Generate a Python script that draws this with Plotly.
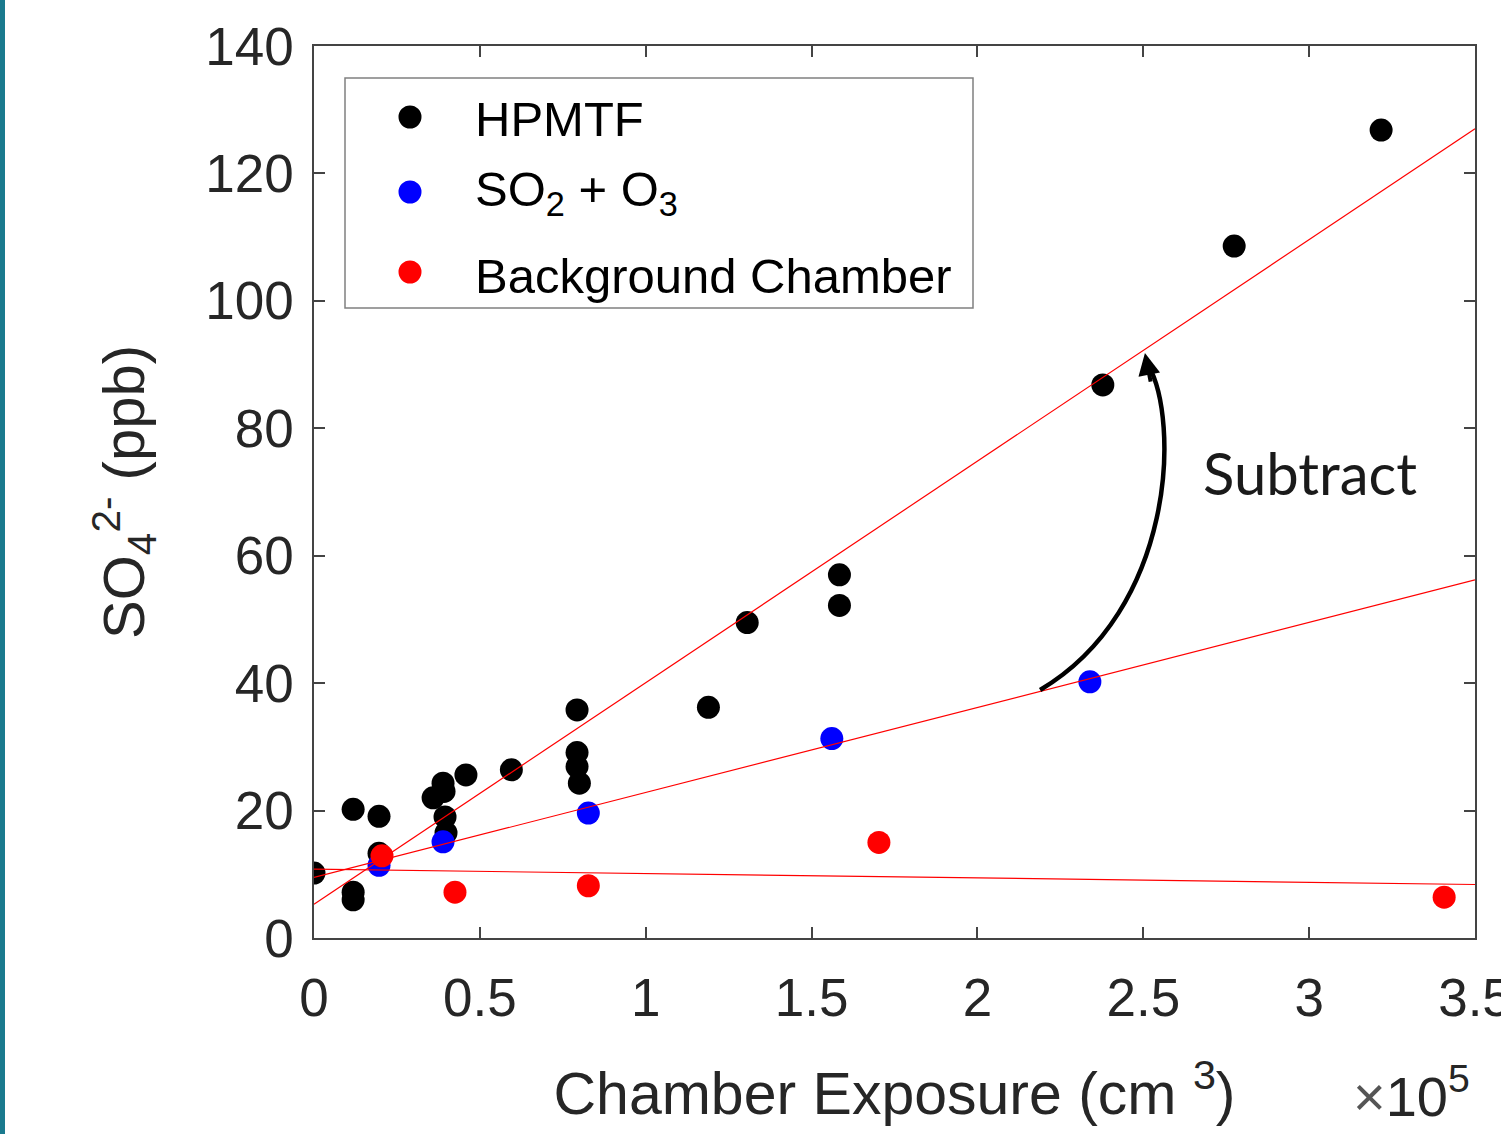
import plotly.graph_objects as go

# ---------------- data (x in units of 1e5 cm^-3 ... as plotted) ----------------
hpmtf_x = [0.0, 0.118, 0.118, 0.118, 0.196, 0.196, 0.359, 0.389, 0.392, 0.395, 0.398,
           0.458, 0.595, 0.793, 0.793, 0.793, 0.800, 1.189, 1.306, 1.584, 1.584,
           2.378, 2.774, 3.217]
hpmtf_y = [10.2, 20.2, 7.2, 6.0, 19.1, 13.3, 22.0, 24.3, 23.0, 19.0, 16.5,
           25.6, 26.4, 35.8, 29.1, 26.9, 24.3, 36.2, 49.5, 57.0, 52.2,
           86.8, 108.6, 126.8]

so2_x = [0.196, 0.389, 0.827, 1.561, 2.339]
so2_y = [11.4, 15.1, 19.6, 31.3, 40.2]

bg_x = [0.205, 0.425, 0.827, 1.703, 3.407]
bg_y = [12.9, 7.2, 8.2, 15.0, 6.4]

# fitted lines, read at the two ends of the x axis
fit_x = [0.0, 3.5]
hpmtf_fit = [5.3, 127.0]
so2_fit = [9.5, 56.2]
bg_fit = [10.8, 8.4]

x_ticks = [0, 0.5, 1, 1.5, 2, 2.5, 3, 3.5]
y_ticks = [0, 20, 40, 60, 80, 100, 120, 140]

legend_names = ["HPMTF", "SO<sub>2</sub> + O<sub>3</sub>", "Background Chamber"]
legend_colors = ["#000000", "#0000ff", "#ff0000"]

# ---------------- layout geometry ----------------
W, H = 1501, 1134
ML, MR, MT, MB = 314, 26, 46, 196
PW = W - ML - MR
PH = H - MT - MB


def px_x(p):
    return (p - ML) / PW


def px_y(p):
    return (H - MB - p) / PH


FONT = "Liberation Sans"
AXC = "#444444"
TXC = "#262626"

fig = go.Figure()
mk = dict(size=23, line=dict(width=0))
fig.add_trace(go.Scatter(x=hpmtf_x, y=hpmtf_y, mode="markers",
                         marker=dict(color=legend_colors[0], **mk), name="HPMTF"))
fig.add_trace(go.Scatter(x=so2_x, y=so2_y, mode="markers",
                         marker=dict(color=legend_colors[1], **mk), name="SO2 + O3"))
fig.add_trace(go.Scatter(x=bg_x, y=bg_y, mode="markers",
                         marker=dict(color=legend_colors[2], **mk), name="Background Chamber"))
for fy in (hpmtf_fit, so2_fit, bg_fit):
    fig.add_trace(go.Scatter(x=fit_x, y=fy, mode="lines",
                             line=dict(color="#ff0000", width=1.2), hoverinfo="skip"))

shapes = []
annotations = []

# left teal border of the page
shapes.append(dict(type="rect", xref="paper", yref="paper",
                   x0=px_x(0), x1=px_x(5), y0=px_y(H), y1=px_y(0),
                   fillcolor="#1a7a8e", line=dict(width=0), layer="above"))

# legend box
shapes.append(dict(type="rect", xref="paper", yref="paper",
                   x0=px_x(345), x1=px_x(973), y0=px_y(308), y1=px_y(78),
                   fillcolor="white", line=dict(color="#808080", width=1.5), layer="above"))
leg_rows = [117, 192, 272]
leg_text_y = [119, 192, 276]
for i, (name, col) in enumerate(zip(legend_names, legend_colors)):
    shapes.append(dict(type="circle", xref="paper", yref="paper",
                       xsizemode="pixel", ysizemode="pixel",
                       xanchor=px_x(410), yanchor=px_y(leg_rows[i]),
                       x0=-11.5, x1=11.5, y0=-11.5, y1=11.5,
                       fillcolor=col, line=dict(width=0), layer="above"))
    annotations.append(dict(xref="paper", yref="paper", x=px_x(473), y=px_y(leg_text_y[i]),
                            xanchor="left", yanchor="middle", showarrow=False,
                            text=name, font=dict(family=FONT, size=49, color="#000000")))

# curved "Subtract" arrow
shapes.append(dict(type="path", xref="x", yref="y",
                   path="M 2.189,38.93 C 2.596,51.48 2.611,81.31 2.514,90.0",
                   line=dict(color="black", width=4.5)))
annotations.append(dict(x=2.505, y=91.8, xref="x", yref="y", ax=6, ay=30,
                        showarrow=True, arrowhead=2, arrowsize=1.1, arrowwidth=4,
                        arrowcolor="black", text=""))
annotations.append(dict(x=px_x(1310), y=px_y(472), xref="paper", yref="paper",
                        text="Subtract", showarrow=False, xanchor="center", yanchor="middle",
                        font=dict(family="Lato", size=58, color="#1a1a1a")))

# x10^5 multiplier
annotations.append(dict(x=px_x(1472), y=px_y(1092), xref="paper", yref="paper",
                        text="<span style='color:#555'>\u00d7</span>10<sup>5</sup>",
                        showarrow=False, xanchor="right", yanchor="middle",
                        font=dict(family=FONT, size=56, color=TXC)))

fig.update_layout(
    width=W, height=H, autosize=False,
    margin=dict(l=ML, r=MR, t=MT, b=MB, autoexpand=False),
    paper_bgcolor="white", plot_bgcolor="white",
    showlegend=False,
    shapes=shapes, annotations=annotations,
    xaxis=dict(range=[0, 3.5], tickvals=x_ticks, ticktext=[f"{v:g}" for v in x_ticks],
               ticks="inside", ticklen=11, tickwidth=1.5, tickcolor=AXC,
               showline=True, linecolor=AXC, linewidth=1.5, mirror="ticks",
               showgrid=False, zeroline=False, ticklabelstandoff=13,
               ticklabeloverflow="allow", automargin=False,
               tickfont=dict(family=FONT, size=53, color=TXC),
               title=dict(text="Chamber Exposure (cm <sup>3</sup>)", standoff=46,
                          font=dict(family=FONT, size=59, color=TXC))),
    yaxis=dict(range=[0, 140], tickvals=y_ticks,
               ticks="inside", ticklen=11, tickwidth=1.5, tickcolor=AXC,
               showline=True, linecolor=AXC, linewidth=1.5, mirror="ticks",
               showgrid=False, zeroline=False, ticklabelstandoff=8, automargin=False,
               tickfont=dict(family=FONT, size=53, color=TXC),
               title=dict(text="SO<sub>4</sub><sup>2-</sup> (ppb)", standoff=42,
                          font=dict(family=FONT, size=58, color=TXC))),
)

fig.write_html("out.html")
